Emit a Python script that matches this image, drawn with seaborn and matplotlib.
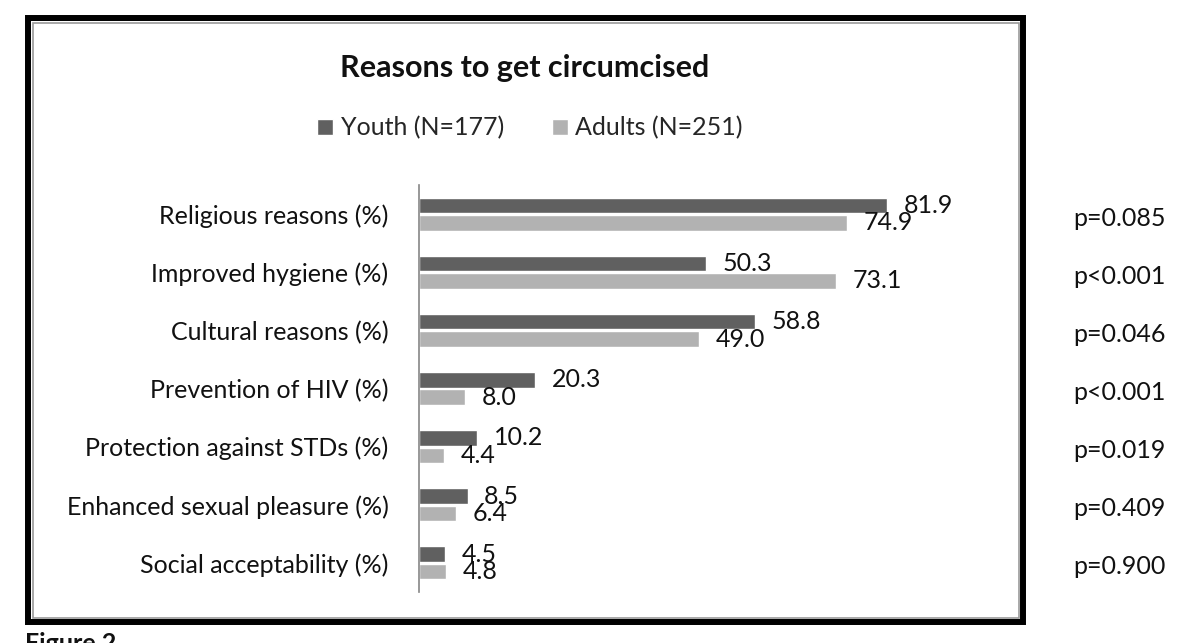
import pandas as pd
import seaborn as sns
import matplotlib.pyplot as plt
from matplotlib.patches import Rectangle
from matplotlib.transforms import blended_transform_factory

sns.set_style("white")
plt.rcParams['font.family'] = ['Lato', 'DejaVu Sans']

# Data
categories = ["Religious reasons (%)", "Improved hygiene (%)", "Cultural reasons (%)",
              "Prevention of HIV (%)", "Protection against STDs (%)",
              "Enhanced sexual pleasure (%)", "Social acceptability (%)"]
youth = [81.9, 50.3, 58.8, 20.3, 10.2, 8.5, 4.5]
adults = [74.9, 73.1, 49.0, 8.0, 4.4, 6.4, 4.8]
p_values = ["p=0.085", "p<0.001", "p=0.046", "p<0.001", "p=0.019", "p=0.409", "p=0.900"]
groups = ["Youth (N=177)", "Adults (N=251)"]
colors = {"Youth (N=177)": "#606060", "Adults (N=251)": "#b2b2b2"}

df = pd.DataFrame({
    "reason": categories * 2,
    "group": [groups[0]] * len(youth) + [groups[1]] * len(adults),
    "value": youth + adults,
})

fig = plt.figure(figsize=(12, 6.43), dpi=100)
ax = fig.add_axes([419 / 1200, 1 - 592 / 643, 571 / 1200, (592 - 185) / 643])

sns.barplot(data=df, y="reason", x="value", hue="group", order=categories,
            hue_order=groups, palette=colors, width=0.6, gap=0.1, ax=ax,
            saturation=1, legend=True)

for cont in ax.containers:
    ax.bar_label(cont, fmt="%.1f", padding=12, fontsize=18, color="#111111")

ax.set_xlim(0, 100)
ax.set_ylim(6.5, -0.5)
ax.set_xlabel("")
ax.set_ylabel("")
ax.set_xticks([])
ax.tick_params(axis="y", length=0, pad=22, labelsize=18, labelcolor="#111111")
for side in ["top", "right", "bottom"]:
    ax.spines[side].set_visible(False)
ax.spines["left"].set_color("#868686")
ax.spines["left"].set_linewidth(1.2)

# Legend above the plot
handles, labels = ax.get_legend_handles_labels()
ax.get_legend().remove()
fig.legend(handles, labels, loc="center", bbox_to_anchor=(530 / 1200, 1 - 128 / 643),
           ncol=2, frameon=False, fontsize=18, handlelength=0.65, handleheight=0.65,
           handletextpad=0.3, columnspacing=1.9)

fig.text(525 / 1200, 1 - 68 / 643, "Reasons to get circumcised", ha="center", va="center",
         fontsize=22, fontweight="bold", color="#111111")

# p-values outside the frame
trans = blended_transform_factory(fig.transFigure, ax.transData)
for i, p in enumerate(p_values):
    ax.text(1073 / 1200, i + 0.07, p, transform=trans, ha="left", va="center",
            fontsize=18, color="#111111", clip_on=False)

# double frame around the chart
fig.add_artist(Rectangle((28 / 1200, 1 - 622 / 643), (1023 - 28) / 1200, (622 - 18) / 643,
                         transform=fig.transFigure, fill=False, edgecolor="black", linewidth=4.3))
fig.add_artist(Rectangle((32.5 / 1200, 1 - 617.5 / 643), (1018.5 - 32.5) / 1200, (617.5 - 22.5) / 643,
                         transform=fig.transFigure, fill=False, edgecolor="#999999", linewidth=1.2))

fig.text(25 / 1200, 1 - 632 / 643, "Figure 2", ha="left", va="top", fontsize=18,
         fontweight="bold", color="#111111")

fig.savefig("out.png", dpi=100)
